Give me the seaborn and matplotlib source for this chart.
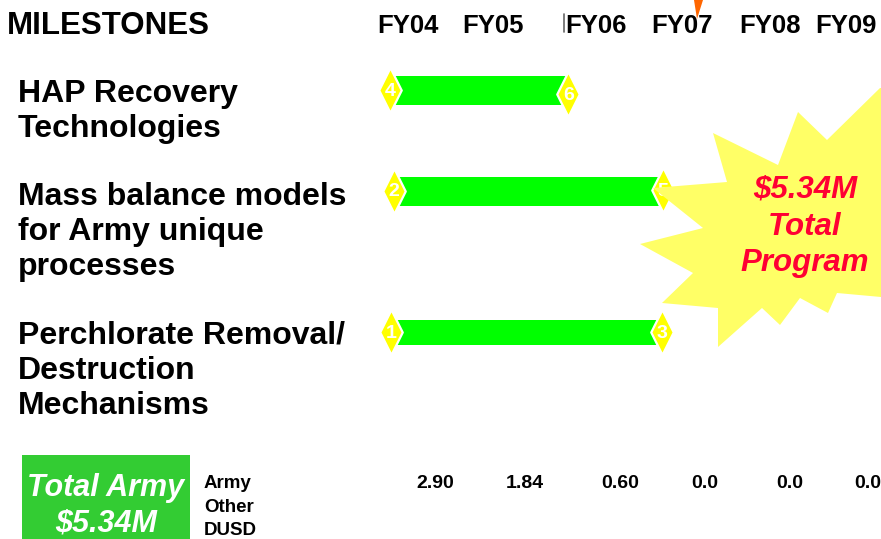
import matplotlib
matplotlib.use("Agg")
import matplotlib.pyplot as plt
from matplotlib.path import Path
from matplotlib.patches import Polygon, Rectangle
import seaborn as sns
import pandas as pd

# ---------------- data ----------------
tasks = ["HAP Recovery\nTechnologies",
         "Mass balance models\nfor Army unique\nprocesses",
         "Perchlorate Removal/\nDestruction\nMechanisms"]
task_start = [2003.80, 2003.84, 2003.81]      # fiscal-year units
task_end = [2005.83, 2006.91, 2006.90]
start_milestone = ["4", "2", "1"]
end_milestone = ["6", "5", "3"]
fiscal_years = ["FY04", "FY05", "FY06", "FY07", "FY08", "FY09"]
funding_rows = ["Army", "Other", "DUSD"]
army_funding = ["2.90", "1.84", "0.60", "0.0", "0.0", "0.0"]
total_program = "$5.34M"

# ---------------- layout ----------------
W, H = 881, 539
sns.set_theme(style="white")
plt.rcParams["font.family"] = ["Liberation Sans", "DejaVu Sans"]
plt.rcParams["text.color"] = "black"

fig = plt.figure(figsize=(W / 100, H / 100), dpi=100)
fig.patch.set_facecolor("white")

px_fy04, px_per_year = 408.0, 87.6
row_y = [90, 191, 332]

# gantt axes in fiscal-year units
ax = fig.add_axes([0, 0, 1, 1], zorder=1)
ax.set_xlim(2004 - px_fy04 / px_per_year, 2004 + (W - px_fy04) / px_per_year)
ax.set_ylim(H, 0)

bar_h = [29, 29, 25]
for y, s, e, h in zip(row_y, task_start, task_end, bar_h):
    ax.barh(y, e - s, left=s, height=h, color="#00FF00", edgecolor="none", zorder=2)

diamond = Path([(0, 1), (0.5, 0), (0, -1), (-0.5, 0), (0, 1)],
               [Path.MOVETO, Path.LINETO, Path.LINETO, Path.LINETO, Path.CLOSEPOLY])
ms = pd.DataFrame({
    "x": task_start + task_end,
    "y": row_y + [r + o for r, o in zip(row_y, [4, -1, 0])],
    "label": start_milestone + end_milestone,
})
sns.scatterplot(data=ms, x="x", y="y", marker=diamond, s=1050, color="#FFFF00",
                edgecolor="white", linewidth=1.6, ax=ax, zorder=3, legend=False)
for _, r in ms.iterrows():
    ax.text(r["x"], r["y"] + 1, r["label"], color="white", fontsize=14,
            fontweight="bold", ha="center", va="center", zorder=4)
ax.set_xlabel("")
ax.set_ylabel("")
ax.axis("off")

# overlay axes in pixel units for annotations
ov = fig.add_axes([0, 0, 1, 1], zorder=2)
ov.set_xlim(0, W)
ov.set_ylim(H, 0)
ov.axis("off")
ov.patch.set_alpha(0)

# starburst
star = [(880, 88), (827, 140), (798, 112), (778, 165), (713, 133), (727, 182),
        (653, 188), (703, 228), (640, 244), (693, 273), (662, 303), (718, 308),
        (718, 347), (762, 308), (780, 325), (800, 298), (828, 313), (837, 293),
        (881, 297), (881, 88)]
ov.add_patch(Polygon(star, closed=True, facecolor="#FFFF66", edgecolor="none", zorder=1))
for txt, yb in zip([total_program, "Total", "Program"], [197, 235, 271]):
    ov.text(805, yb, txt, color="#FF0033", fontsize=22.5, fontweight="bold",
            fontstyle="italic", ha="center", va="baseline", zorder=2)

# title + fiscal years
ov.text(7, 34, "MILESTONES", fontsize=22.5, fontweight="bold", ha="left", va="baseline")
fy_x = [408, 493, 596, 682, 770, 846]
for lab, x in zip(fiscal_years, fy_x):
    ov.text(x, 33, lab, fontsize=18.5, fontweight="bold", ha="center", va="baseline")
ov.plot([564, 564], [14, 32], color="#666666", lw=1.2)
ov.add_patch(Polygon([(694, 0), (703, 0), (697, 19)], closed=True,
                     facecolor="#FF6600", edgecolor="none", zorder=3))

# task labels
task_base = [102, 205, 344]
for lab, yb in zip(tasks, task_base):
    for i, line in enumerate(lab.split("\n")):
        ov.text(18, yb + 35 * i, line, fontsize=23, fontweight="bold",
                ha="left", va="baseline")

# funding box
ov.add_patch(Rectangle((22, 455), 168, 90, facecolor="#33CC33", edgecolor="none"))
ov.text(106, 496, "Total Army", color="white", fontsize=22, fontweight="bold",
        fontstyle="italic", ha="center", va="baseline")
ov.text(106, 532, total_program, color="white", fontsize=22, fontweight="bold",
        fontstyle="italic", ha="center", va="baseline")
for i, lab in enumerate(funding_rows):
    ov.text(204, 488 + 23.5 * i, lab, fontsize=13.5, fontweight="bold",
            ha="left", va="baseline")
val_x = [435, 525, 620, 705, 790, 868]
for v, x in zip(army_funding, val_x):
    ov.text(x, 488, v, fontsize=14, fontweight="bold", ha="center", va="baseline")

fig.savefig("out.png", dpi=100, facecolor="white")
